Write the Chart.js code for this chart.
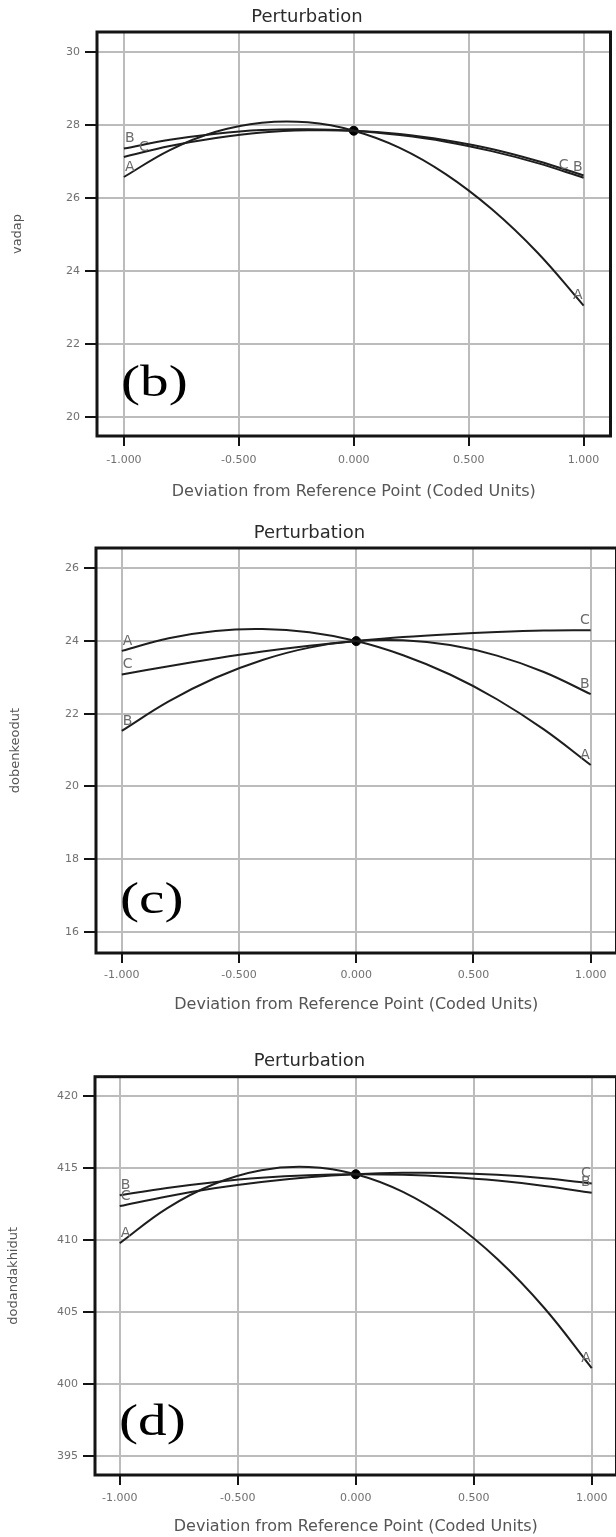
<!DOCTYPE html>
<html>
<head>
<meta charset="utf-8">
<script src="https://cdn.jsdelivr.net/npm/chart.js@4.4.1/dist/chart.umd.min.js"></script>
<style>
  html, body { margin: 0; padding: 0; background: #fff; overflow: hidden; }
  #page { position: relative; width: 616px; height: 1537px; overflow: hidden; }
  .panel { position: absolute; left: 0; }
</style>
</head>
<body>
<div id="page">
  <div class="panel" style="top:0px"><canvas id="chartB" width="616" height="510"></canvas></div>
  <div class="panel" style="top:512px"><canvas id="chartC" width="622" height="510"></canvas></div>
  <div class="panel" style="top:1032px"><canvas id="chartD" width="622" height="505"></canvas></div>
</div>
<script>
/* ---------- Data ---------- */
const xCoded    = [-1, -0.8, -0.6, -0.4, -0.2, 0, 0.2, 0.4, 0.6, 0.8, 1];
const xTickVals = [-1, -0.5, 0, 0.5, 1];

// (b) vadap
const vadapA     = [26.58, 27.32, 27.82, 28.07, 28.08, 27.85, 27.38, 26.66, 25.70, 24.50, 23.05];
const vadapB     = [27.36, 27.60, 27.77, 27.87, 27.89, 27.85, 27.73, 27.55, 27.29, 26.96, 26.56];
const vadapC     = [27.13, 27.43, 27.65, 27.80, 27.86, 27.85, 27.76, 27.59, 27.35, 27.02, 26.62];
const vadapTicks = [20, 22, 24, 26, 28, 30];

// (c) dobenkeodut
const dobenA     = [23.73, 24.08, 24.28, 24.33, 24.24, 24.00, 23.61, 23.08, 22.40, 21.57, 20.59];
const dobenB     = [21.53, 22.34, 22.99, 23.48, 23.82, 24.00, 24.02, 23.89, 23.60, 23.15, 22.54];
const dobenC     = [23.08, 23.31, 23.52, 23.71, 23.87, 24.00, 24.11, 24.19, 24.25, 24.29, 24.30];
const dobenTicks = [16, 18, 20, 22, 24, 26];

// (d) dodandakhidut
const dodanA     = [409.77, 412.19, 413.88, 414.84, 415.06, 414.56, 413.33, 411.36, 408.67, 405.25, 401.09];
const dodanB     = [413.10, 413.61, 414.01, 414.31, 414.49, 414.56, 414.52, 414.37, 414.12, 413.75, 413.27];
const dodanC     = [412.35, 413.02, 413.58, 414.02, 414.35, 414.56, 414.66, 414.65, 414.52, 414.28, 413.92];
const dodanTicks = [395, 400, 405, 410, 415, 420];

const factorNames = ["A", "B", "C"];

/* ---------- Panel layout ---------- */
const panels = [
  { id: "chartB", yTitle: "vadap", tag: "(b)", series: [vadapA, vadapB, vadapC], yTicks: vadapTicks,
    yMin: 19.47, yMax: 30.56, xLim: 1.117, left: 97, axisH: 74, padRight: 2,
    titlePad: { top: 6.2, bottom: 4.2 }, xLabelPad: 8, xTitlePad: 8.5, yTitlePad: 10.2, nudgeC: 14 },
  { id: "chartC", yTitle: "dobenkeodut", tag: "(c)", series: [dobenA, dobenB, dobenC], yTicks: dobenTicks,
    yMin: 15.42, yMax: 26.56, xLim: 1.110, left: 96, axisH: 69, padRight: 3,
    titlePad: { top: 10.2, bottom: 4.2 }, xLabelPad: 6, xTitlePad: 7.5, yTitlePad: 8.2, nudgeC: 0 },
  { id: "chartD", yTitle: "dodandakhidut", tag: "(d)", series: [dodanA, dodanB, dodanC], yTicks: dodanTicks,
    yMin: 393.66, yMax: 421.34, xLim: 1.105, left: 95, axisH: 62, padRight: 3,
    titlePad: { top: 18.9, bottom: 4.2 }, xLabelPad: 6.5, xTitlePad: 1, yTitlePad: 6.2, nudgeC: 0 }
];

/* ---------- Frame, A/B/C end labels, panel tag ---------- */
const frameAndLabels = {
  id: "frameAndLabels",
  afterDraw(chart, args, opts) {
    const { ctx, chartArea: a, scales: { x, y } } = chart;
    ctx.save();
    ctx.strokeStyle = "#141414";
    ctx.lineWidth = 3;
    ctx.strokeRect(a.left, a.top, a.right - a.left, a.bottom - a.top);

    ctx.font = "14px 'DejaVu Sans'";
    ctx.fillStyle = "#6b6b6b";
    ctx.textBaseline = "bottom";
    chart.data.datasets.forEach(ds => {
      if (!factorNames.includes(ds.label)) return;
      const first = ds.data[0], last = ds.data[ds.data.length - 1];
      const dx = ds.label === "C" ? opts.nudgeC : 0;
      ctx.textAlign = "left";
      ctx.fillText(ds.label, x.getPixelForValue(first.x) + 1 + dx, y.getPixelForValue(first.y) - 3);
      ctx.textAlign = "right";
      ctx.fillText(ds.label, x.getPixelForValue(last.x) - 1 - dx, y.getPixelForValue(last.y) - 3);
    });

    ctx.translate(a.left + 24, a.bottom - 40);
    ctx.scale(1.3, 1);
    ctx.font = "44px 'Liberation Serif'";
    ctx.fillStyle = "#000";
    ctx.textAlign = "left";
    ctx.textBaseline = "alphabetic";
    ctx.fillText(opts.tag, 0, 0);
    ctx.restore();
  }
};

const tickFont = { family: "DejaVu Sans", size: 11 };

function buildPanel(p) {
  const datasets = p.series.map((vals, i) => ({
    label: factorNames[i],
    data: xCoded.map((xv, j) => ({ x: xv, y: vals[j] })),
    borderColor: "#1e1e1e",
    borderWidth: 2,
    pointRadius: 0,
    tension: 0.4,
    fill: false
  }));
  const refIdx = xCoded.indexOf(0);
  datasets.push({
    label: "ref",
    data: [{ x: 0, y: p.series[0][refIdx] }],
    showLine: false,
    pointRadius: 4.5,
    pointBackgroundColor: "#000",
    pointBorderColor: "#000"
  });

  return new Chart(document.getElementById(p.id), {
    type: "line",
    data: { datasets },
    plugins: [frameAndLabels],
    options: {
      responsive: false,
      animation: false,
      layout: { padding: { left: 0, right: p.padRight, top: 0, bottom: 0 } },
      plugins: {
        legend: { display: false },
        tooltip: { enabled: false },
        title: {
          display: true,
          text: "Perturbation",
          color: "#2b2b2b",
          font: { family: "DejaVu Sans", size: 18, weight: "normal" },
          padding: p.titlePad
        },
        frameAndLabels: { tag: p.tag, nudgeC: p.nudgeC }
      },
      scales: {
        x: {
          type: "linear",
          min: -p.xLim,
          max: p.xLim,
          afterBuildTicks: s => { s.ticks = xTickVals.map(v => ({ value: v })); },
          afterFit: s => { s.height = p.axisH; },
          ticks: { color: "#707070", font: tickFont, padding: p.xLabelPad, maxRotation: 0,
                   callback: v => v.toFixed(3) },
          grid: { color: "#bcbcbc", lineWidth: 2, tickColor: "#141414", tickWidth: 2, tickLength: 10 },
          border: { display: false },
          title: { display: true, text: "Deviation from Reference Point (Coded Units)", color: "#555",
                   font: { family: "DejaVu Sans", size: 16 }, padding: { top: 0, bottom: p.xTitlePad } }
        },
        y: {
          min: p.yMin,
          max: p.yMax,
          afterBuildTicks: s => { s.ticks = p.yTicks.map(v => ({ value: v })); },
          afterFit: s => { s.width = p.left; },
          ticks: { color: "#707070", font: tickFont, padding: 5 },
          grid: { color: "#bcbcbc", lineWidth: 2, tickColor: "#141414", tickWidth: 2, tickLength: 12 },
          border: { display: false },
          title: { display: true, text: p.yTitle, color: "#555",
                   font: { family: "DejaVu Sans", size: 13 }, padding: { top: p.yTitlePad, bottom: 0 } }
        }
      }
    }
  });
}

panels.forEach(buildPanel);
</script>
</body>
</html>
